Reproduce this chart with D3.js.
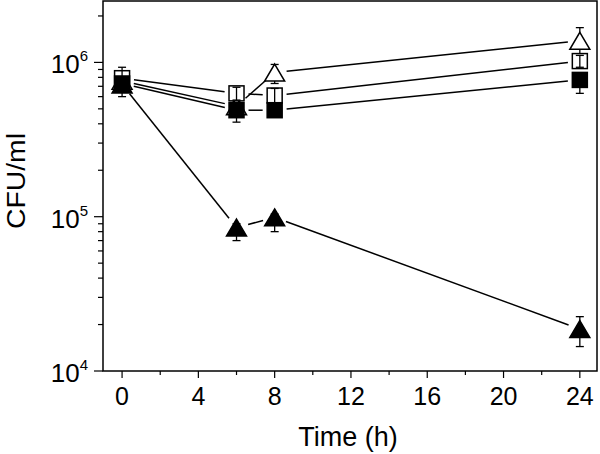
<!DOCTYPE html>
<html><head><meta charset="utf-8">
<script src="https://cdn.jsdelivr.net/npm/d3@7"></script>
<style>body{margin:0;background:#fff}svg{display:block}</style>
</head><body>
<svg id="c" width="600" height="454"></svg>
<script>
const time = [0, 6, 8, 24];
const openTri    = [7.6e5, 5.2e5, 8.6e5, 1.38e6];
const filledTri  = [7.2e5, 8.5e4, 9.9e4, 1.87e4];
const openSq     = [7.9e5, 6.3e5, 6.1e5, 1.02e6];
const filledSq   = [7.3e5, 4.9e5, 4.9e5, 7.7e5];
// error bar half-lengths (upper / lower)
const errHiOpenTri   = [5e4, 4e4, 1.1e5, 3e5];
const errLoOpenTri   = [5e4, 4e4, 1.3e5, 2.5e5];
const errHiFilledTri = [5e4, 5e3, 5e3, 3.8e3];
const errLoFilledTri = [1.2e5, 1.5e4, 1.9e4, 4.3e3];
const errHiOpenSq    = [1.4e5, 6e4, 6.8e4, 9e4];
const errLoOpenSq    = [5e4, 6e4, 6.8e4, 9e4];
const errHiFilledSq  = [5e4, 5e4, 4e4, 5e4];
const errLoFilledSq  = [5e4, 8e4, 4e4, 1.4e5];
const xTicks = [0, 4, 8, 12, 16, 20, 24];
const xMinor = [2, 6, 10, 14, 18, 22];
const yMajor = [1e4, 1e5, 1e6];
const yExp = ["4", "5", "6"];
const xLabel = "Time (h)";
const yLabel = "CFU/ml";

const series = [
  {vals: openTri, hi: errHiOpenTri, lo: errLoOpenTri, shape: "tri", fill: "#fff", barsOnTop: false},
  {vals: filledTri, hi: errHiFilledTri, lo: errLoFilledTri, shape: "tri", fill: "#000", barsOnTop: false},
  {vals: openSq, hi: errHiOpenSq, lo: errLoOpenSq, shape: "sq", fill: "#fff", barsOnTop: true},
  {vals: filledSq, hi: errHiFilledSq, lo: errLoFilledSq, shape: "sq", fill: "#000", barsOnTop: false}
];

const svg = d3.select("#c");
const font = "'Liberation Sans', Arial, Helvetica, sans-serif";
const x = d3.scaleLinear().domain([-1, 24.9]).range([103, 597]);
const y = d3.scaleLog().domain([1e4, 2.5e6]).range([371, 1]);
const [x0, x1] = x.range(); const [yb, yt] = y.range();

// frame
svg.append("rect").attr("x", x0).attr("y", yt).attr("width", x1 - x0).attr("height", yb - yt)
  .attr("fill", "none").attr("stroke", "#000").attr("stroke-width", 1.5);

// x ticks
const gx = svg.append("g");
xTicks.forEach(t => {
  gx.append("line").attr("x1", x(t)).attr("x2", x(t)).attr("y1", yb).attr("y2", yb + 7).attr("stroke", "#000").attr("stroke-width", 1.2);
  gx.append("text").attr("x", x(t)).attr("y", yb + 34).attr("text-anchor", "middle")
    .attr("font-family", font).attr("font-size", 25).text(t);
});
xMinor.forEach(t => {
  gx.append("line").attr("x1", x(t)).attr("x2", x(t)).attr("y1", yb).attr("y2", yb + 4).attr("stroke", "#000").attr("stroke-width", 1.2);
});

// y ticks
const gy = svg.append("g");
const minorVals = [];
[1e4, 1e5, 1e6].forEach(d => { for (let k = 2; k <= 9; k++) if (d * k <= 2.5e6) minorVals.push(d * k); });
minorVals.forEach(v => {
  gy.append("line").attr("x1", x0 - 5).attr("x2", x0).attr("y1", y(v)).attr("y2", y(v)).attr("stroke", "#000").attr("stroke-width", 1.2);
});
yMajor.forEach((v, i) => {
  gy.append("line").attr("x1", x0 - 9).attr("x2", x0).attr("y1", y(v)).attr("y2", y(v)).attr("stroke", "#000").attr("stroke-width", 1.2);
  const t = gy.append("text").attr("x", 88).attr("y", y(v) + 11).attr("text-anchor", "end")
    .attr("font-family", font).attr("font-size", 26);
  t.append("tspan").text("10");
  t.append("tspan").attr("dy", -12).attr("font-size", 15).text(yExp[i]);
});

// axis titles
svg.append("text").attr("x", 348).attr("y", 446).attr("text-anchor", "middle")
  .attr("font-family", font).attr("font-size", 27).text(xLabel);
svg.append("text").attr("transform", "translate(25,181) rotate(-90)").attr("text-anchor", "middle")
  .attr("font-family", font).attr("font-size", 26)
  .attr("textLength", 96).attr("lengthAdjust", "spacingAndGlyphs").text(yLabel);

// lines with gaps near markers
const gap = 12;
const gl = svg.append("g");
series.forEach(s => {
  for (let i = 0; i < time.length - 1; i++) {
    const ax = x(time[i]), ay = y(s.vals[i]), bx = x(time[i + 1]), by = y(s.vals[i + 1]);
    const L = Math.hypot(bx - ax, by - ay);
    if (L <= 2 * gap) continue;
    const ux = (bx - ax) / L, uy = (by - ay) / L;
    gl.append("line").attr("x1", ax + ux * gap).attr("y1", ay + uy * gap)
      .attr("x2", bx - ux * gap).attr("y2", by - uy * gap)
      .attr("stroke", "#000").attr("stroke-width", 1.5);
  }
});

// markers + error bars
const gm = svg.append("g");
function bars(s, i, cx) {
  const yu = y(s.vals[i] + s.hi[i]), yl = y(s.vals[i] - s.lo[i]);
  gm.append("line").attr("x1", cx).attr("x2", cx).attr("y1", yu).attr("y2", yl).attr("stroke", "#000").attr("stroke-width", 1.3);
  [yu, yl].forEach(yy => gm.append("line").attr("x1", cx - 4).attr("x2", cx + 4).attr("y1", yy).attr("y2", yy).attr("stroke", "#000").attr("stroke-width", 1.3));
}
series.forEach(s => {
  time.forEach((t, i) => {
    const cx = x(t), cy = y(s.vals[i]);
    if (!s.barsOnTop) bars(s, i, cx);
    if (s.shape === "tri") {
      const w = 20, h = 17;
      gm.append("path").attr("d", `M${cx},${cy - h / 2}L${cx + w / 2},${cy + h / 2}L${cx - w / 2},${cy + h / 2}Z`)
        .attr("fill", s.fill).attr("stroke", "#000").attr("stroke-width", 1.5).attr("stroke-linejoin", "miter");
    } else {
      const w = 15;
      gm.append("rect").attr("x", cx - w / 2).attr("y", cy - w / 2).attr("width", w).attr("height", w)
        .attr("fill", s.fill).attr("stroke", "#000").attr("stroke-width", 1.5);
    }
    if (s.barsOnTop) bars(s, i, cx);
  });
});
</script>
</body></html>
